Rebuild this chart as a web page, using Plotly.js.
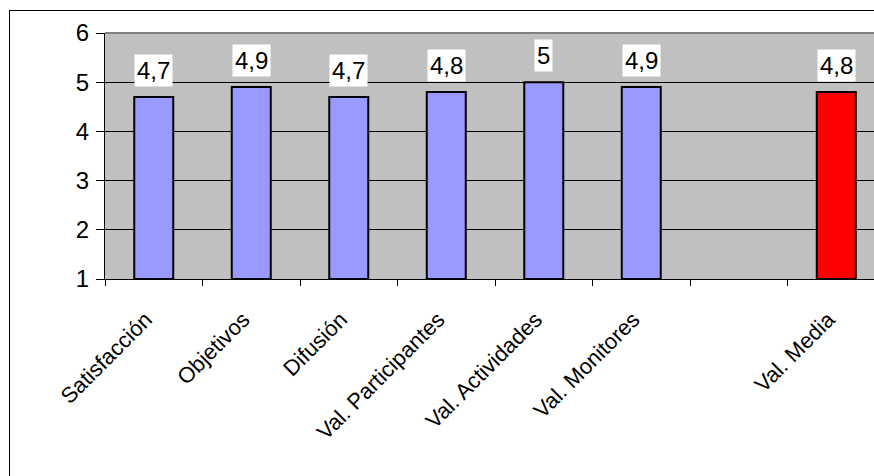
<!DOCTYPE html>
<html>
<head>
<meta charset="utf-8">
<script src="https://cdn.plot.ly/plotly-3.0.1.min.js"></script>
<style>
html,body{margin:0;padding:0;background:#fff;}
#wrap{position:relative;width:874px;height:476px;overflow:hidden;}
#chart{width:874px;height:476px;}
#frame{position:absolute;left:9px;top:10px;width:900px;height:500px;border:1.5px solid #000;pointer-events:none;box-sizing:border-box;}
</style>
</head>
<body>
<div id="wrap"><div id="chart"></div><div id="frame"></div></div>
<script>
var categories = ["Satisfacción", "Objetivos", "Difusión", "Val. Participantes", "Val. Actividades", "Val. Monitores", " ", "Val. Media"];
var values = [4.7, 4.9, 4.7, 4.8, 5, 4.9, null, 4.8];
var barColors = ["#9999FF", "#9999FF", "#9999FF", "#9999FF", "#9999FF", "#9999FF", "#9999FF", "#FF0000"];
var yTicks = [1, 2, 3, 4, 5, 6];
var axisBase = 1;

var trace = {
  type: "bar",
  x: categories,
  y: values.map(function(v){ return v === null ? null : v - axisBase; }),
  base: axisBase,
  width: 0.4,
  marker: {color: barColors, line: {color: "#000", width: 2}},
  hoverinfo: "none"
};

var FONT = "Arial, 'Liberation Sans', sans-serif";
var annotations = [];
categories.forEach(function(c, i){
  if (values[i] === null) return;
  annotations.push({
    x: c, y: values[i], xref: "x", yref: "y",
    text: String(values[i]).replace(".", ","),
    showarrow: false, yanchor: "bottom", yshift: 10,
    bgcolor: "#FFFFFF", borderpad: 2,
    font: {family: FONT, size: 24, color: "#000"}
  });
});

var layout = {
  width: 874, height: 476,
  margin: {l: 105, r: 0, t: 33, b: 197},
  paper_bgcolor: "#FFFFFF",
  plot_bgcolor: "#C0C0C0",
  showlegend: false,
  font: {family: FONT, color: "#000"},
  xaxis: {
    type: "category",
    categoryorder: "array", categoryarray: categories,
    range: [-0.5, 7.387],
    tickson: "boundaries",
    ticks: "outside", ticklen: 6, tickcolor: "#000", tickwidth: 1,
    showline: true, linecolor: "#000", linewidth: 1,
    showgrid: false, zeroline: false,
    tickangle: -45,
    ticklabelstandoff: 18,
    ticklabelshift: -8,
    tickfont: {size: 22, family: FONT, color: "#000"},
    fixedrange: true
  },
  yaxis: {
    range: [1, 6],
    tickvals: yTicks,
    ticks: "outside", ticklen: 8, tickcolor: "#000", tickwidth: 1,
    showline: true, linecolor: "#000", linewidth: 1,
    showgrid: true, gridcolor: "#000", gridwidth: 1,
    zeroline: false,
    ticklabelstandoff: 2,
    tickfont: {size: 24, family: FONT, color: "#000"},
    fixedrange: true
  },
  shapes: [
    {type: "line", xref: "paper", yref: "paper", x0: 0, x1: 1, y0: 1, y1: 1,
     line: {color: "#808080", width: 2}}
  ],
  annotations: annotations
};

Plotly.newPlot("chart", [trace], layout, {displayModeBar: false, staticPlot: true});
</script>
</body>
</html>
